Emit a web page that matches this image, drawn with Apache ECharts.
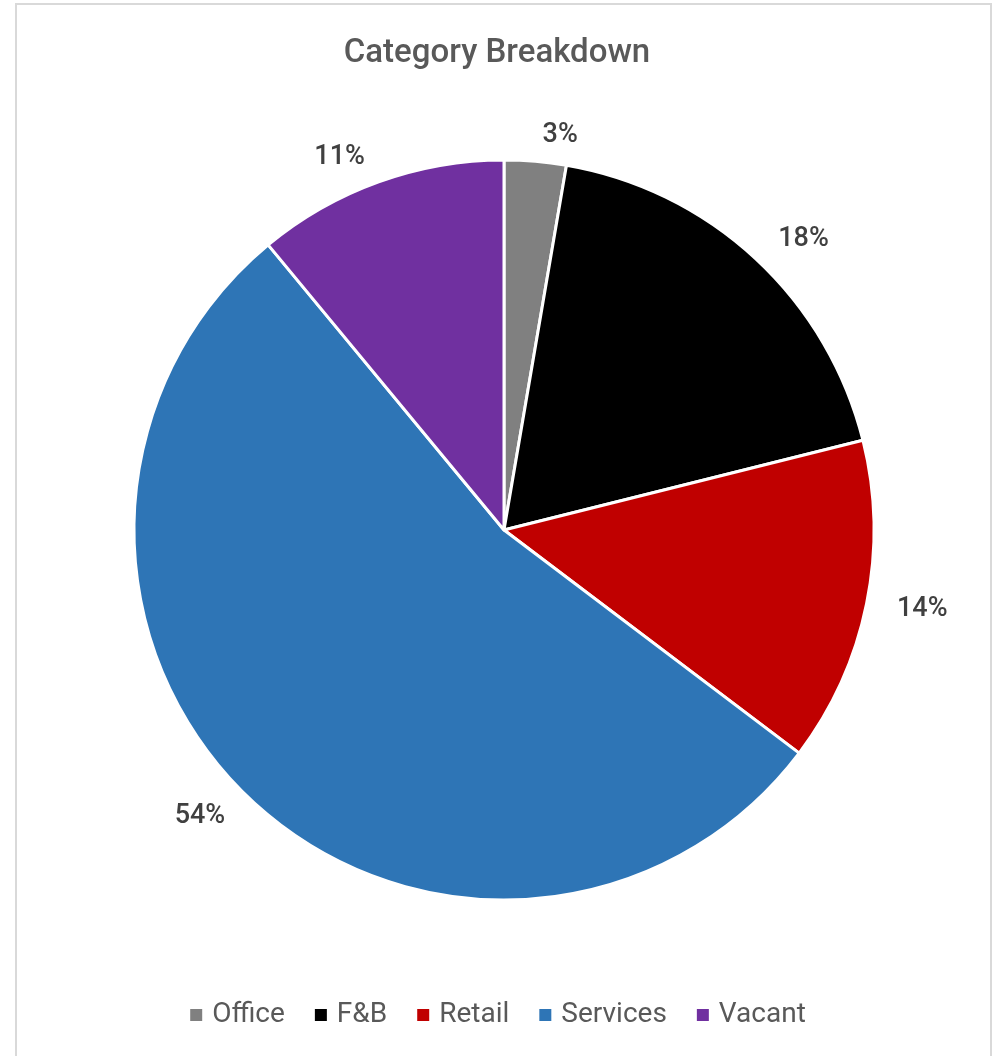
<!DOCTYPE html>
<html>
<head>
<meta charset="utf-8">
<script src="https://cdn.jsdelivr.net/npm/echarts@6/dist/echarts.min.js"></script>
<style>
  html, body { margin: 0; padding: 0; background: #fff; }
  .frame {
    position: absolute; left: 15px; top: 3px; width: 977px; height: 1070px;
    border: 2px solid #d9d9d9; box-sizing: border-box;
  }
  #chart { position: absolute; left: 0; top: 0; width: 994px; height: 1056px; }
</style>
</head>
<body>
<div class="frame"></div>
<div id="chart"></div>
<script>
  // values; labels show the rounded percentages
  const categories = ['Office', 'F&B', 'Retail', 'Services', 'Vacant'];
  const values = [2.7, 18.4, 14.2, 53.7, 11.0];
  const colors = ['#808080', '#000000', '#c00000', '#2e75b6', '#7030a0'];

  const font = 'Roboto, "DejaVu Sans", sans-serif';
  const myChart = echarts.init(document.getElementById('chart'));

  const option = {
    backgroundColor: 'transparent',
    title: {
      text: 'Category Breakdown',
      left: 'center',
      top: 32,
      textStyle: { fontFamily: font, fontSize: 33, fontWeight: 500, color: '#595959' },
    },
    legend: {
      bottom: 22,
      left: 'center',
      itemWidth: 14,
      itemHeight: 14,
      itemGap: 28,
      icon: 'rect',
      data: categories,
      textStyle: { fontFamily: font, fontSize: 28, color: '#595959', padding: [0, 0, 0, 4] },
    },
    series: [
      {
        type: 'pie',
        center: [504, 530],
        radius: 370,
        startAngle: 90,
        clockwise: true,
        avoidLabelOverlap: false,
        itemStyle: { borderColor: '#fff', borderWidth: 3 },
        label: {
          show: true,
          position: 'outside',
          formatter: (p) => Math.round(p.value) + '%',
          fontFamily: font,
          fontSize: 27,
          fontWeight: 500,
          color: '#404040',
        },
        labelLine: { show: false, length: 26, length2: 0 },
        data: categories.map((name, i) => ({
          name,
          value: values[i],
          itemStyle: { color: colors[i] },
        })),
      },
    ],
  };
  myChart.setOption(option);
</script>
</body>
</html>
